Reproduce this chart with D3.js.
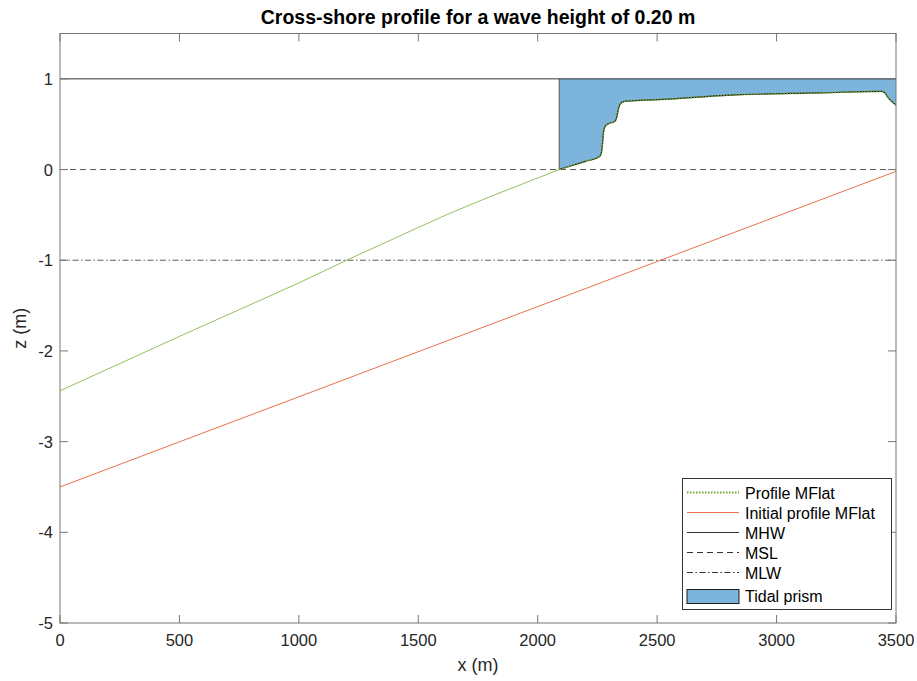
<!DOCTYPE html>
<html><head><meta charset="utf-8">
<script src="https://cdn.jsdelivr.net/npm/d3@7"></script>
<style>
html,body{margin:0;padding:0;background:#fff;}
svg{display:block;font-family:"Liberation Sans",Arial,Helvetica,sans-serif;}
</style></head><body>
<svg id="c" width="917" height="681"></svg>
<script>
// ---- data ----
const xTicks = [0,500,1000,1500,2000,2500,3000,3500];
const yTicks = [1,0,-1,-2,-3,-4,-5];
const titleText = "Cross-shore profile for a wave height of 0.20 m";
// initial profile
const initX = [0, 3500];
const initZ = [-3.5, -0.02];
// profile MFlat (subtidal part)
const profX = [0,250,500,750,1000,1200,1400,1600,1800,1950,2090];
const profZ = [-2.44,-2.14,-1.84,-1.545,-1.25,-1.0,-0.76,-0.52,-0.30,-0.145,0.0];
// profile MFlat (intertidal part)
const flatX = [2090,2150,2200,2259,2266,2271,2275,2279,2287,2300,2318,2328,2334,2340,2350,2362,2375,2500,2846,3181,3440,3452,3468,3489,3500];
const flatZ = [0.0,0.05,0.09,0.145,0.18,0.28,0.40,0.46,0.49,0.51,0.525,0.55,0.62,0.69,0.735,0.75,0.755,0.77,0.825,0.845,0.862,0.85,0.79,0.735,0.71];
const MHW = 1, MSL = 0, MLW = -1;
const legendLabels = ["Profile MFlat","Initial profile MFlat","MHW","MSL","MLW","Tidal prism"];

// ---- layout ----
const L=60, T=33.5, R=896, B=623;
const svg = d3.select("#c");
const x = d3.scaleLinear().domain([0,3500]).range([L,R]);
const y = d3.scaleLinear().domain([-5,1.5]).range([B,T]);
const axisCol = "#777", txtCol = "#262626";
const fs = 16.5;

// tidal prism polygon
const prismPts = [[flatX[0],MHW]].concat(flatX.map((d,i)=>[d,flatZ[i]])).concat([[flatX[flatX.length-1],MHW]]);
svg.append("path").attr("d", d3.line().x(d=>x(d[0])).y(d=>y(d[1]))(prismPts)+"Z")
  .attr("fill","#7db4dc").attr("stroke","none");
svg.append("path").attr("d", d3.line().curve(d3.curveMonotoneX).x(d=>x(d[0])).y(d=>y(d[1]))(flatX.map((d,i)=>[d,flatZ[i]])))
  .attr("fill","none").attr("stroke","#1a1a1a").attr("stroke-width",1.2);
svg.append("line").attr("x1",x(flatX[0])).attr("x2",x(flatX[0])).attr("y1",y(0)).attr("y2",y(MHW))
  .attr("stroke","#555").attr("stroke-width",1);

// reference lines
svg.append("line").attr("x1",x(0)).attr("x2",x(3500)).attr("y1",y(MHW)).attr("y2",y(MHW))
  .attr("stroke","#333").attr("stroke-width",1);
svg.append("line").attr("x1",x(0)).attr("x2",x(3500)).attr("y1",y(MSL)).attr("y2",y(MSL))
  .attr("stroke","#5a5a5a").attr("stroke-width",1).attr("stroke-dasharray","6,4");
svg.append("line").attr("x1",x(0)).attr("x2",x(3500)).attr("y1",y(MLW)).attr("y2",y(MLW))
  .attr("stroke","#5a5a5a").attr("stroke-width",1).attr("stroke-dasharray","6,2.5,1.5,2.5");

// initial profile
svg.append("path").attr("d", d3.line().x((d,i)=>x(d)).y((d,i)=>y(initZ[i]))(initX))
  .attr("fill","none").attr("stroke","#e8734a").attr("stroke-width",1);
// profile subtidal thin
svg.append("path").attr("d", d3.line().curve(d3.curveMonotoneX).x(d=>x(d)).y((d,i)=>y(profZ[i]))(profX))
  .attr("fill","none").attr("stroke","#92c25c").attr("stroke-width",1);
// profile intertidal dotted
svg.append("path").attr("d", d3.line().curve(d3.curveMonotoneX).x(d=>x(d)).y((d,i)=>y(flatZ[i]))(flatX))
  .attr("fill","none").attr("stroke","#6fa52a").attr("stroke-width",1.6).attr("stroke-dasharray","1.5,1.5");

// axes box
const g = svg.append("g");
g.append("rect").attr("x",L).attr("y",T).attr("width",R-L).attr("height",B-T)
  .attr("fill","none").attr("stroke",axisCol).attr("stroke-width",1);
const tl = 8;
xTicks.forEach(t=>{
  g.append("line").attr("x1",x(t)).attr("x2",x(t)).attr("y1",B).attr("y2",B-tl).attr("stroke",axisCol);
  g.append("line").attr("x1",x(t)).attr("x2",x(t)).attr("y1",T).attr("y2",T+tl).attr("stroke",axisCol);
  g.append("text").attr("x",x(t)).attr("y",B+23).attr("text-anchor","middle")
    .attr("font-size",fs).attr("fill",txtCol).text(t);
});
yTicks.forEach(t=>{
  g.append("line").attr("x1",L).attr("x2",L+tl).attr("y1",y(t)).attr("y2",y(t)).attr("stroke",axisCol);
  g.append("line").attr("x1",R).attr("x2",R-tl).attr("y1",y(t)).attr("y2",y(t)).attr("stroke",axisCol);
  g.append("text").attr("x",L-7).attr("y",y(t)+6).attr("text-anchor","end")
    .attr("font-size",fs).attr("fill",txtCol).text(t);
});
svg.append("text").attr("x",(L+R)/2).attr("y",671).attr("text-anchor","middle")
  .attr("font-size",18).attr("fill",txtCol).text("x (m)");
svg.append("text").attr("transform",`translate(26,${(T+B)/2}) rotate(-90)`).attr("text-anchor","middle")
  .attr("font-size",18).attr("fill",txtCol).text("z (m)");
svg.append("text").attr("x",(L+R)/2).attr("y",24).attr("text-anchor","middle")
  .attr("font-size",19.5).attr("font-weight","bold").attr("fill","#000").text(titleText);

// legend
const lg = svg.append("g");
lg.append("rect").attr("x",682.5).attr("y",478.5).attr("width",209).attr("height",131)
  .attr("fill","#fff").attr("stroke","#333").attr("stroke-width",1);
const rowY = [492.5,512.5,532.5,552.5,572.5,596];
const lx1=687, lx2=739;
const styles = [
  {c:"#6fa52a",w:2,d:"1.5,1.5"},
  {c:"#e8734a",w:1,d:null},
  {c:"#333",w:1,d:null},
  {c:"#333",w:1,d:"6,4"},
  {c:"#333",w:1,d:"6,2.5,1.5,2.5"}
];
styles.forEach((s,i)=>{
  const ln = lg.append("line").attr("x1",lx1).attr("x2",lx2).attr("y1",rowY[i]).attr("y2",rowY[i])
    .attr("stroke",s.c).attr("stroke-width",s.w);
  if(s.d) ln.attr("stroke-dasharray",s.d);
});
lg.append("rect").attr("x",lx1).attr("y",589.5).attr("width",lx2-lx1).attr("height",14)
  .attr("fill","#7db4dc").attr("stroke","#1a1a1a").attr("stroke-width",1);
legendLabels.forEach((t,i)=>{
  lg.append("text").attr("x",745).attr("y",rowY[i]+6).attr("font-size",16).attr("fill","#000").text(t);
});
</script>
</body></html>
